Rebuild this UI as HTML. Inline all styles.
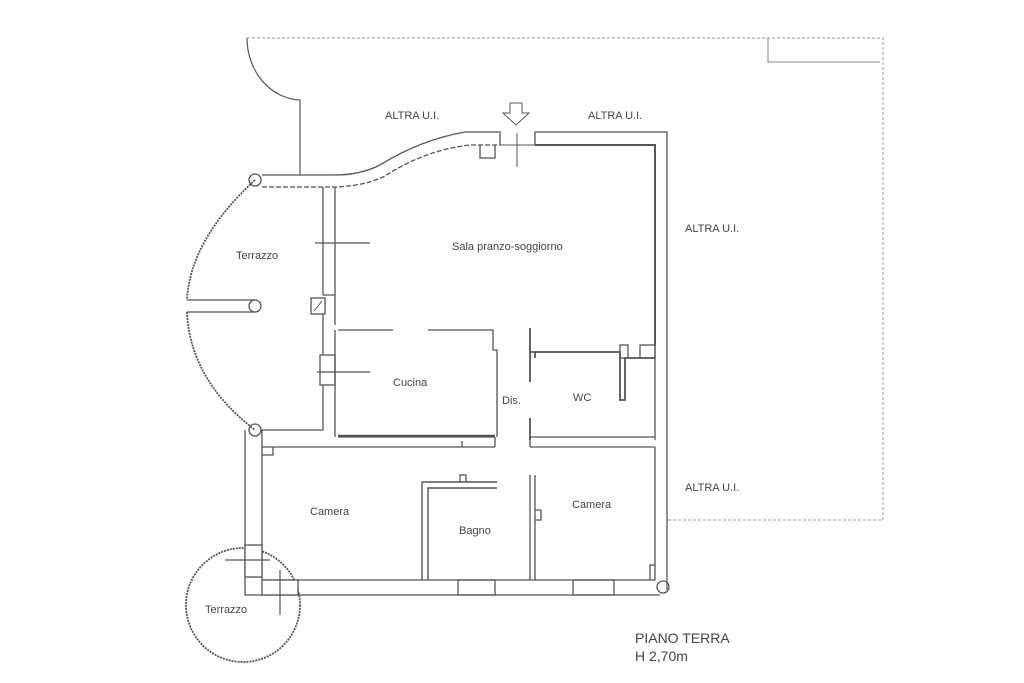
<!DOCTYPE html>
<html><head><meta charset="utf-8"><style>
body{margin:0;background:#fff}
svg{display:block}
text{font-family:"Liberation Sans",sans-serif;font-size:11px;fill:#444}
</style></head><body>
<svg width="1024" height="683" viewBox="0 0 1024 683" fill="none" stroke="#555" stroke-width="1.3">
<!-- dashed outer boundary -->
<path d="M247 38 H883 V520 H667" stroke="#999" stroke-dasharray="3,2" stroke-width="1"/>
<path d="M768 38 V62 H880" stroke="#888" stroke-width="1"/>
<path d="M247 38 A55 62 0 0 0 300 100 V175" stroke-width="1.2"/>
<!-- top curved wall -->
<path d="M262 175 H335 Q360 175 380 165 Q420 140 465 132 H500 V145" />
<path d="M262 187 H335 Q365 186 385 176 Q425 150 470 145 H500" stroke-dasharray="5,2"/>
<path d="M480 145 V158 H495 V145"/>
<path d="M535 145 V132 H667 V590"/>
<path d="M535 145 H655 V345" stroke-width="2"/>
<path d="M500 145 H535 M517 133 V167" stroke-width="1"/>
<path d="M510 103 h12 v10 h7 l-13 12 l-13 -12 h7 z" stroke-width="1"/>
<!-- terrazzo big arc -->
<path d="M255 180 Q190 240 187 300 M187 312 Q190 380 255 430" stroke-dasharray="2,1" stroke-width="1.8"/>
<path d="M187 300 H255 M187 312 H255" />
<circle cx="255" cy="180" r="6"/><circle cx="255" cy="306" r="6"/><circle cx="255" cy="430" r="6"/>
<!-- wall between terrazzo and sala -->
<path d="M323 187 V295 M335 187 V325 M323 295 H335" />
<rect x="311" y="298" width="14" height="16"/><path d="M314 311 L322 301" stroke-width="1"/>
<path d="M323 314 V355 M323 385 V430 H262 V580 M335 330 V437" />
<rect x="320" y="355" width="15" height="30"/>
<path d="M315 243 H370 M317 372 H370" stroke-width="1.2"/>
<!-- kitchen -->
<path d="M338 330 H393 M428 330 H493 V350 H497 V437" />
<path d="M338 437 H495 M262 447 H495 M530 437 H655 M530 447 H655"/>
<path d="M338 436 H495" stroke-width="2.5"/>
<path d="M495 437 V447 M530 437 V447"/>
<!-- Dis/WC -->
<path d="M530 328 V382 M530 418 V440 M530 352 H620 V400 H625 V358 H655 M535 352 V358" stroke-width="1.8"/>
<rect x="620" y="345" width="8" height="13"/><rect x="640" y="345" width="15" height="13"/>
<path d="M655 345 V440"/>
<!-- bottom rooms -->
<path d="M262 580 H655 V447" />
<path d="M245 430 V595 H660" />
<path d="M273 447 V455 H262"/>
<path d="M422 580 V482 H497 M428 580 V488 H497" stroke-width="1.4"/>
<path d="M460 482 V475 H466 V482 M462 447 V441"/>
<path d="M530 580 V475 M535 580 V510 H541 V520 H535 V475" />
<path d="M650 580 V565 H655"/>
<rect x="458" y="580" width="37" height="15"/><rect x="573" y="580" width="41" height="15"/>
<circle cx="663" cy="587" r="6"/>
<!-- small terrazzo -->
<circle cx="243" cy="605" r="57" stroke-dasharray="2,1" stroke-width="1.8"/>
<rect x="245" y="545" width="17" height="32" fill="#fff"/>
<rect x="262" y="580" width="36" height="15" fill="#fff"/>
<path d="M225 560 H270 M280 570 V615" stroke-width="1.2"/>
</svg>
<div style="position:absolute;left:0;top:0">
<svg width="1024" height="683">
<text x="385" y="119">ALTRA U.I.</text>
<text x="588" y="119">ALTRA U.I.</text>
<text x="685" y="232">ALTRA U.I.</text>
<text x="685" y="491">ALTRA U.I.</text>
<text x="236" y="259">Terrazzo</text>
<text x="452" y="250">Sala pranzo-soggiorno</text>
<text x="393" y="386">Cucina</text>
<text x="502" y="404">Dis.</text>
<text x="573" y="401">WC</text>
<text x="310" y="515">Camera</text>
<text x="572" y="508">Camera</text>
<text x="459" y="534">Bagno</text>
<text x="205" y="613">Terrazzo</text>
<text x="635" y="643" style="font-size:14px">PIANO TERRA</text>
<text x="635" y="661" style="font-size:14px">H 2,70m</text>
</svg></div>
</body></html>
